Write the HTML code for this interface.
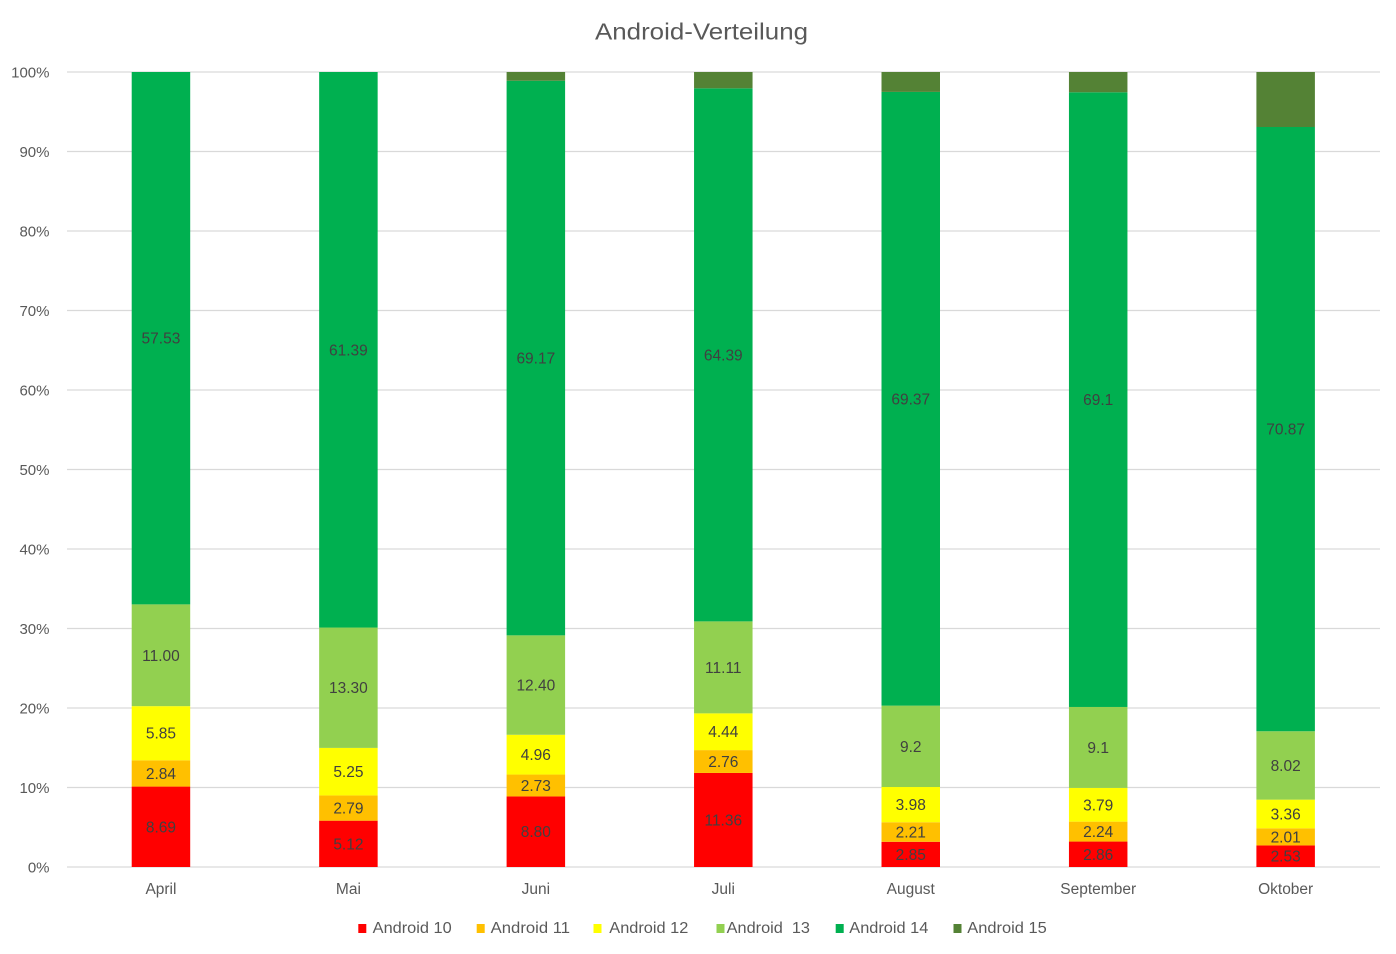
<!DOCTYPE html>
<html>
<head>
<meta charset="utf-8">
<style>
  html,body{margin:0;padding:0;background:#fff;}
  svg{display:block;}
  text{font-family:"Liberation Sans",sans-serif;}
</style>
</head>
<body>
<svg width="1396" height="954" viewBox="0 0 1396 954" xmlns="http://www.w3.org/2000/svg">
  <rect x="0" y="0" width="1396" height="954" fill="#ffffff"/>
  <!-- title -->
  <text x="595" y="39.5" font-size="23" fill="#595959" textLength="213" lengthAdjust="spacingAndGlyphs">Android-Verteilung</text>

  <!-- gridlines -->
  <g stroke="#d9d9d9" stroke-width="1.2">
    <line x1="67" y1="72" x2="1380" y2="72"/>
    <line x1="67" y1="151.5" x2="1380" y2="151.5"/>
    <line x1="67" y1="231" x2="1380" y2="231"/>
    <line x1="67" y1="310.5" x2="1380" y2="310.5"/>
    <line x1="67" y1="390" x2="1380" y2="390"/>
    <line x1="67" y1="469.5" x2="1380" y2="469.5"/>
    <line x1="67" y1="549" x2="1380" y2="549"/>
    <line x1="67" y1="628.5" x2="1380" y2="628.5"/>
    <line x1="67" y1="708" x2="1380" y2="708"/>
    <line x1="67" y1="787.5" x2="1380" y2="787.5"/>
    <line x1="67" y1="867" x2="1380" y2="867"/>
  </g>

  <!-- y axis labels -->
  <g font-size="15" fill="#595959" text-anchor="end">
    <text x="49.5" y="77.5">100%</text>
    <text x="49.5" y="157">90%</text>
    <text x="49.5" y="236.5">80%</text>
    <text x="49.5" y="316">70%</text>
    <text x="49.5" y="395.5">60%</text>
    <text x="49.5" y="475">50%</text>
    <text x="49.5" y="554.5">40%</text>
    <text x="49.5" y="634">30%</text>
    <text x="49.5" y="713.5">20%</text>
    <text x="49.5" y="793">10%</text>
    <text x="49.5" y="872.5">0%</text>
  </g>

  <!-- bars -->
  <!-- April c=160.95 -->
  <g>
    <rect x="131.7" y="786.58" width="58.5" height="80.42" fill="#ff0000"/>
    <rect x="131.7" y="760.30" width="58.5" height="26.28" fill="#ffc000"/>
    <rect x="131.7" y="706.16" width="58.5" height="54.14" fill="#ffff00"/>
    <rect x="131.7" y="604.37" width="58.5" height="101.79" fill="#92d050"/>
    <rect x="131.7" y="72" width="58.5" height="532.37" fill="#00b050"/>
  </g>
  <!-- Mai c=348.4 -->
  <g>
    <rect x="319.15" y="820.67" width="58.5" height="46.33" fill="#ff0000"/>
    <rect x="319.15" y="795.42" width="58.5" height="25.25" fill="#ffc000"/>
    <rect x="319.15" y="747.91" width="58.5" height="47.51" fill="#ffff00"/>
    <rect x="319.15" y="627.55" width="58.5" height="120.36" fill="#92d050"/>
    <rect x="319.15" y="72" width="58.5" height="555.55" fill="#00b050"/>
  </g>
  <!-- Juni c=535.85 -->
  <g>
    <rect x="506.6" y="796.44" width="58.5" height="70.56" fill="#ff0000"/>
    <rect x="506.6" y="774.55" width="58.5" height="21.89" fill="#ffc000"/>
    <rect x="506.6" y="734.78" width="58.5" height="39.77" fill="#ffff00"/>
    <rect x="506.6" y="635.35" width="58.5" height="99.43" fill="#92d050"/>
    <rect x="506.6" y="80.74" width="58.5" height="554.61" fill="#00b050"/>
    <rect x="506.6" y="72" width="58.5" height="8.74" fill="#548235"/>
  </g>
  <!-- Juli c=723.3 -->
  <g>
    <rect x="694.05" y="772.95" width="58.5" height="94.05" fill="#ff0000"/>
    <rect x="694.05" y="750.10" width="58.5" height="22.85" fill="#ffc000"/>
    <rect x="694.05" y="713.35" width="58.5" height="36.75" fill="#ffff00"/>
    <rect x="694.05" y="621.37" width="58.5" height="91.98" fill="#92d050"/>
    <rect x="694.05" y="88.31" width="58.5" height="533.06" fill="#00b050"/>
    <rect x="694.05" y="72" width="58.5" height="16.31" fill="#548235"/>
  </g>
  <!-- August c=910.75 -->
  <g>
    <rect x="881.5" y="841.78" width="58.5" height="25.22" fill="#ff0000"/>
    <rect x="881.5" y="822.23" width="58.5" height="19.55" fill="#ffc000"/>
    <rect x="881.5" y="787.02" width="58.5" height="35.21" fill="#ffff00"/>
    <rect x="881.5" y="705.63" width="58.5" height="81.39" fill="#92d050"/>
    <rect x="881.5" y="91.91" width="58.5" height="613.72" fill="#00b050"/>
    <rect x="881.5" y="72" width="58.5" height="19.91" fill="#548235"/>
  </g>
  <!-- September c=1098.2 -->
  <g>
    <rect x="1068.95" y="841.56" width="58.5" height="25.44" fill="#ff0000"/>
    <rect x="1068.95" y="821.63" width="58.5" height="19.93" fill="#ffc000"/>
    <rect x="1068.95" y="787.92" width="58.5" height="33.71" fill="#ffff00"/>
    <rect x="1068.95" y="706.97" width="58.5" height="80.95" fill="#92d050"/>
    <rect x="1068.95" y="92.28" width="58.5" height="614.69" fill="#00b050"/>
    <rect x="1068.95" y="72" width="58.5" height="20.28" fill="#548235"/>
  </g>
  <!-- Oktober c=1285.65 -->
  <g>
    <rect x="1256.4" y="845.43" width="58.5" height="21.57" fill="#ff0000"/>
    <rect x="1256.4" y="828.29" width="58.5" height="17.14" fill="#ffc000"/>
    <rect x="1256.4" y="799.64" width="58.5" height="28.65" fill="#ffff00"/>
    <rect x="1256.4" y="731.26" width="58.5" height="68.38" fill="#92d050"/>
    <rect x="1256.4" y="127.0" width="58.5" height="604.26" fill="#00b050"/>
    <rect x="1256.4" y="72" width="58.5" height="55.0" fill="#548235"/>
  </g>

  <!-- data labels -->
  <g font-size="15.5" fill="#404040" text-anchor="middle">
    <text x="160.95" y="832.3">8.69</text>
    <text x="160.95" y="778.9">2.84</text>
    <text x="160.95" y="738.7">5.85</text>
    <text x="160.95" y="660.8">11.00</text>
    <text x="160.95" y="343.7">57.53</text>

    <text x="348.4" y="849.3">5.12</text>
    <text x="348.4" y="813.5">2.79</text>
    <text x="348.4" y="777.2">5.25</text>
    <text x="348.4" y="693.2">13.30</text>
    <text x="348.4" y="355.3">61.39</text>

    <text x="535.85" y="837.2">8.80</text>
    <text x="535.85" y="791.0">2.73</text>
    <text x="535.85" y="760.2">4.96</text>
    <text x="535.85" y="690.6">12.40</text>
    <text x="535.85" y="363.5">69.17</text>

    <text x="723.3" y="825.5">11.36</text>
    <text x="723.3" y="767.0">2.76</text>
    <text x="723.3" y="737.2">4.44</text>
    <text x="723.3" y="672.9">11.11</text>
    <text x="723.3" y="360.3">64.39</text>

    <text x="910.75" y="859.9">2.85</text>
    <text x="910.75" y="837.5">2.21</text>
    <text x="910.75" y="810.1">3.98</text>
    <text x="910.75" y="751.8">9.2</text>
    <text x="910.75" y="404.3">69.37</text>

    <text x="1098.2" y="859.8">2.86</text>
    <text x="1098.2" y="837.1">2.24</text>
    <text x="1098.2" y="810.3">3.79</text>
    <text x="1098.2" y="752.9">9.1</text>
    <text x="1098.2" y="405.1">69.1</text>

    <text x="1285.65" y="861.7">2.53</text>
    <text x="1285.65" y="842.4">2.01</text>
    <text x="1285.65" y="819.5">3.36</text>
    <text x="1285.65" y="771.0">8.02</text>
    <text x="1285.65" y="434.6">70.87</text>
  </g>

  <!-- category labels -->
  <g font-size="15.5" fill="#595959" text-anchor="middle">
    <text x="160.95" y="894">April</text>
    <text x="348.4" y="894">Mai</text>
    <text x="535.85" y="894">Juni</text>
    <text x="723.3" y="894">Juli</text>
    <text x="910.75" y="894">August</text>
    <text x="1098.2" y="894">September</text>
    <text x="1285.65" y="894">Oktober</text>
  </g>

  <!-- legend -->
  <g>
    <rect x="358.3" y="924" width="8" height="9" fill="#ff0000"/>
    <rect x="476.7" y="924" width="8" height="9" fill="#ffc000"/>
    <rect x="593.5" y="924" width="8" height="9" fill="#ffff00"/>
    <rect x="716.5" y="924" width="8" height="9" fill="#92d050"/>
    <rect x="835.7" y="924" width="8" height="9" fill="#00b050"/>
    <rect x="953.5" y="924" width="8" height="9" fill="#548235"/>
  </g>
  <g font-size="16" fill="#595959">
    <text x="372.7" y="933" textLength="79" lengthAdjust="spacingAndGlyphs">Android 10</text>
    <text x="490.7" y="933" textLength="79.3" lengthAdjust="spacingAndGlyphs">Android 11</text>
    <text x="609.3" y="933" textLength="79" lengthAdjust="spacingAndGlyphs">Android 12</text>
    <text x="726.7" y="933" textLength="83.3" lengthAdjust="spacingAndGlyphs" style="white-space:pre">Android  13</text>
    <text x="849.3" y="933" textLength="79" lengthAdjust="spacingAndGlyphs">Android 14</text>
    <text x="967.3" y="933" textLength="79.4" lengthAdjust="spacingAndGlyphs">Android 15</text>
  </g>
</svg>
</body>
</html>
